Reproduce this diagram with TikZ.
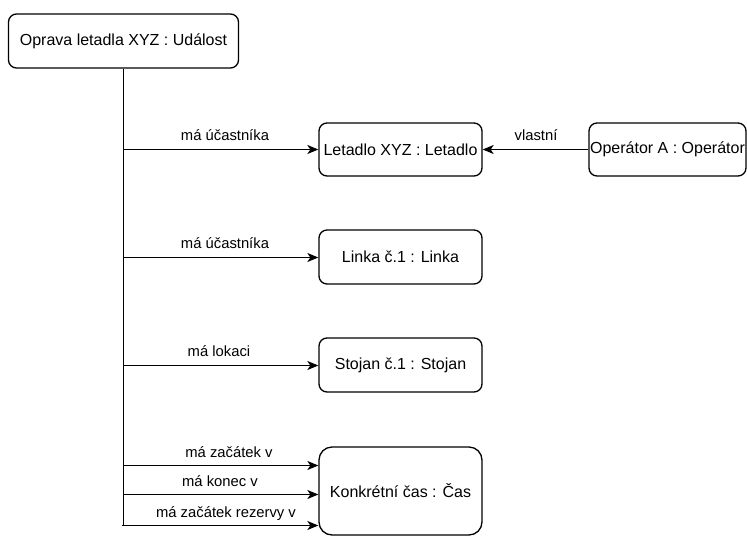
\documentclass[tikz,border=0pt]{standalone}
\usepackage{fontspec}
\setmainfont{Liberation Sans}
\usetikzlibrary{arrows.meta}
\begin{document}
\begin{tikzpicture}[x=1pt,y=-1pt,
  box/.style={draw, line width=1.3pt, rounded corners=8pt, inner sep=0pt, font=\fontsize{16}{19}\selectfont, align=center},
  lbl/.style={font=\fontsize{14.8}{17}\selectfont, anchor=base, inner sep=0pt},
  conn/.style={line width=1.3pt, -{Stealth[length=11pt,width=9pt,inset=3pt]}},
  plain/.style={line width=1.3pt}
]
\useasboundingbox (0,0) rectangle (747,536);
% nodes
\node[box, minimum width=230pt, minimum height=54pt] (top) at (123.5,41) {Oprava letadla XYZ : Událost};
\node[box, minimum width=163pt, minimum height=53pt] (letadlo) at (400.5,149.5) {Letadlo XYZ : Letadlo};
\node[box, minimum width=157pt, minimum height=53pt] (operator) at (667.5,149.5) {Operátor A : Operátor};
\node[box, minimum width=163pt, minimum height=54pt] (linka) at (400.5,257) {Linka č.1 : Linka};
\node[box, minimum width=163pt, minimum height=54pt] (stojan) at (400.5,365) {Stojan č.1 : Stojan};
\node[box, rounded corners=13pt, minimum width=163pt, minimum height=88pt] (cas) at (400.5,491) {Konkrétní čas : Čas};
% branch points
\coordinate (b1) at (123.5,149.5);
\coordinate (b2) at (123.5,257.5);
\coordinate (b3) at (123.5,365.5);
\coordinate (b4) at (123.5,465.5);
\coordinate (b5) at (123.5,494.5);
\coordinate (b6) at (121.5,525.5);
\coordinate (bend) at (123.5,525.5);
% trunk
\draw[plain] (top.south) -- (bend);
% connectors
\draw[conn] (b1) -- (b1 -| letadlo.west);
\draw[conn] (b2) -- (b2 -| linka.west);
\draw[conn] (b3) -- (b3 -| stojan.west);
\draw[conn] (b4) -- (b4 -| cas.west);
\draw[conn] (b5) -- (b5 -| cas.west);
\draw[conn] (b6) -- (b6 -| cas.west);
\draw[conn] (operator.west) -- (letadlo.east);
% labels
\node[lbl] (l1) at (225,140) {má účastníka};
\node[lbl] (l2) at (225,248) {má účastníka};
\node[lbl] (l3) at (219,356) {má lokaci};
\node[lbl] (l4) at (229,457) {má začátek v};
\node[lbl] (l5) at (220,486) {má konec v};
\node[lbl] (l6) at (226,517) {má začátek rezervy v};
\node[lbl] (l7) at (536,140) {vlastní};
\end{tikzpicture}
\end{document}
